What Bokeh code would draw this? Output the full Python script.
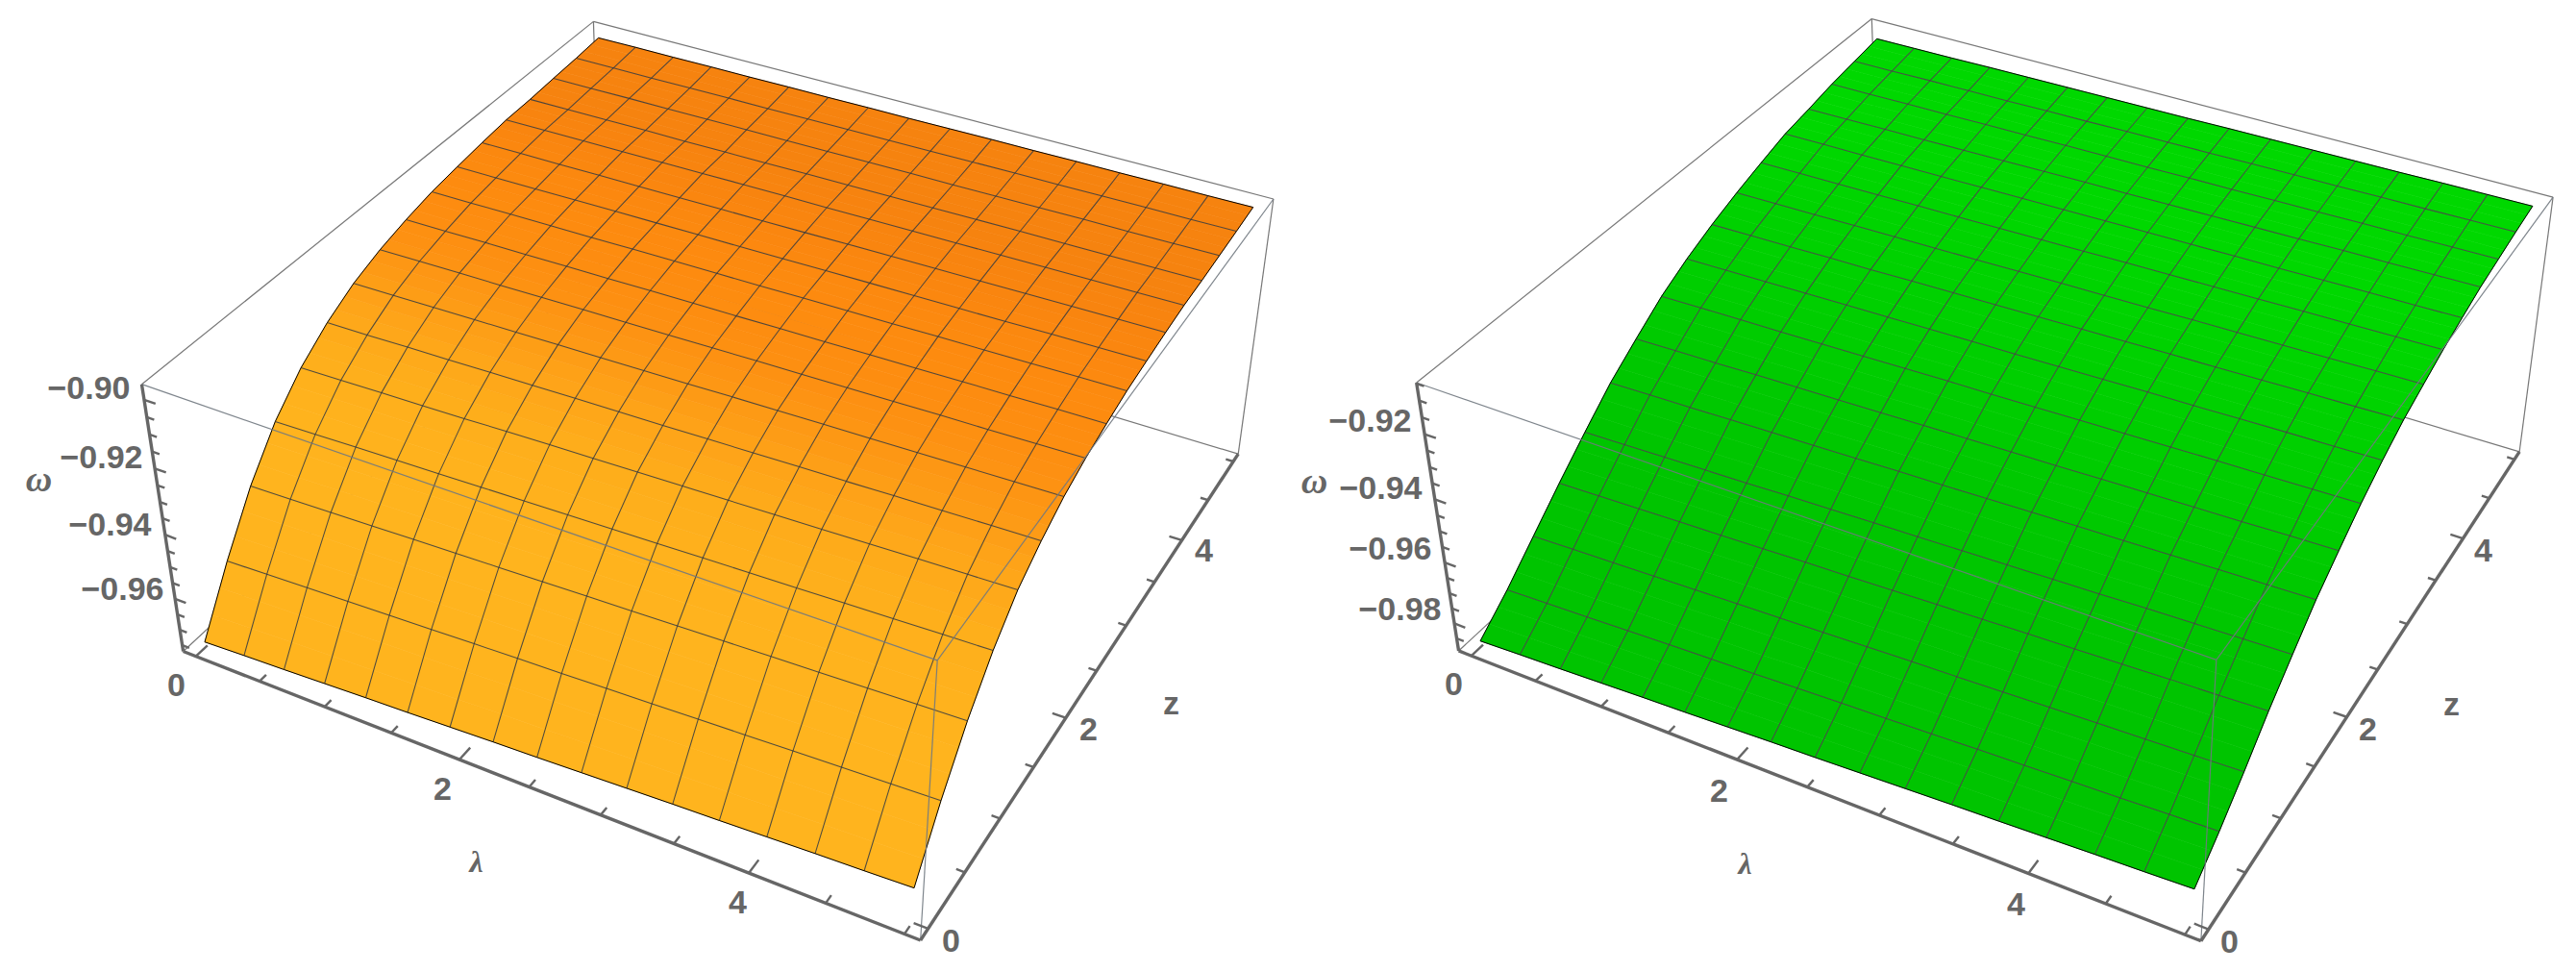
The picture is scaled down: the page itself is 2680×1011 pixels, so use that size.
import numpy as np
from bokeh.plotting import figure
from bokeh.models import Range1d
from bokeh.embed import file_html
from bokeh.resources import INLINE
from bokeh.core.properties import value

# mesh nodes of the two surfaces
lambda_grid = [0, 0.3125, 0.625, 0.9375, 1.25, 1.5625, 1.875, 2.1875, 2.5, 2.8125, 3.125, 3.4375, 3.75, 4.0625, 4.375, 4.6875, 5]
z_grid = [0, 0.3125, 0.625, 0.9375, 1.25, 1.5625, 1.875, 2.1875, 2.5, 2.8125, 3.125, 3.4375, 3.75, 4.0625, 4.375, 4.6875, 5]

# omega(lambda_i, z_j), values
omega_orange = [
 [-.9753,-.9581,-.9429,-.9309,-.9221,-.9157,-.9109,-.9076,-.9052,-.9033,-.9021,-.9010,-.9001,-.8998,-.8992,-.8987,-.8980],
 [-.9747,-.9576,-.9425,-.9306,-.9218,-.9155,-.9107,-.9074,-.9051,-.9032,-.9020,-.9009,-.9000,-.8997,-.8991,-.8986,-.8979],
 [-.9742,-.9571,-.9421,-.9302,-.9215,-.9152,-.9105,-.9072,-.9049,-.9030,-.9019,-.9008,-.8999,-.8996,-.8990,-.8986,-.8979],
 [-.9736,-.9566,-.9417,-.9299,-.9212,-.9150,-.9103,-.9071,-.9048,-.9029,-.9017,-.9007,-.8998,-.8995,-.8990,-.8985,-.8978],
 [-.9730,-.9561,-.9413,-.9296,-.9209,-.9147,-.9101,-.9069,-.9046,-.9028,-.9016,-.9006,-.8997,-.8995,-.8989,-.8984,-.8978],
 [-.9725,-.9556,-.9409,-.9292,-.9205,-.9145,-.9099,-.9067,-.9045,-.9026,-.9015,-.9005,-.8996,-.8994,-.8988,-.8984,-.8977],
 [-.9719,-.9551,-.9405,-.9289,-.9202,-.9142,-.9097,-.9066,-.9043,-.9025,-.9014,-.9004,-.8995,-.8993,-.8988,-.8983,-.8977],
 [-.9713,-.9546,-.9401,-.9285,-.9199,-.9140,-.9095,-.9064,-.9042,-.9024,-.9013,-.9003,-.8994,-.8992,-.8987,-.8982,-.8976],
 [-.9708,-.9542,-.9397,-.9282,-.9196,-.9138,-.9093,-.9062,-.9041,-.9023,-.9012,-.9002,-.8994,-.8991,-.8986,-.8982,-.8976],
 [-.9702,-.9537,-.9393,-.9279,-.9193,-.9135,-.9090,-.9060,-.9039,-.9021,-.9010,-.9000,-.8993,-.8990,-.8985,-.8981,-.8975],
 [-.9696,-.9532,-.9389,-.9275,-.9190,-.9133,-.9088,-.9059,-.9038,-.9020,-.9009,-.8999,-.8992,-.8989,-.8985,-.8980,-.8974],
 [-.9690,-.9527,-.9385,-.9272,-.9187,-.9130,-.9086,-.9057,-.9036,-.9019,-.9008,-.8998,-.8991,-.8988,-.8984,-.8979,-.8974],
 [-.9685,-.9522,-.9381,-.9269,-.9184,-.9128,-.9084,-.9055,-.9035,-.9017,-.9007,-.8997,-.8990,-.8987,-.8983,-.8979,-.8973],
 [-.9679,-.9517,-.9377,-.9265,-.9180,-.9125,-.9082,-.9053,-.9033,-.9016,-.9006,-.8996,-.8989,-.8987,-.8982,-.8978,-.8973],
 [-.9673,-.9512,-.9373,-.9262,-.9177,-.9123,-.9080,-.9052,-.9032,-.9015,-.9004,-.8995,-.8988,-.8986,-.8982,-.8977,-.8972],
 [-.9668,-.9507,-.9369,-.9258,-.9174,-.9120,-.9078,-.9050,-.9030,-.9013,-.9003,-.8994,-.8987,-.8985,-.8981,-.8977,-.8972],
 [-.9662,-.9502,-.9365,-.9255,-.9171,-.9118,-.9076,-.9048,-.9029,-.9012,-.9002,-.8993,-.8986,-.8984,-.8980,-.8976,-.8971],
]

# omega(lambda_i, z_j), values
omega_green = [
 [-.9873,-.9795,-.9707,-.9619,-.9535,-.9455,-.9390,-.9328,-.9280,-.9240,-.9206,-.9176,-.9148,-.9131,-.9112,-.9098,-.9084],
 [-.9867,-.9790,-.9702,-.9614,-.9531,-.9451,-.9387,-.9325,-.9277,-.9237,-.9204,-.9174,-.9146,-.9129,-.9111,-.9097,-.9083],
 [-.9862,-.9785,-.9698,-.9610,-.9527,-.9448,-.9384,-.9322,-.9275,-.9235,-.9202,-.9172,-.9145,-.9127,-.9109,-.9095,-.9082],
 [-.9856,-.9779,-.9693,-.9605,-.9523,-.9444,-.9380,-.9320,-.9272,-.9232,-.9199,-.9170,-.9143,-.9126,-.9108,-.9094,-.9080],
 [-.9850,-.9774,-.9688,-.9601,-.9519,-.9440,-.9377,-.9317,-.9269,-.9230,-.9197,-.9168,-.9142,-.9124,-.9106,-.9093,-.9079],
 [-.9845,-.9769,-.9683,-.9596,-.9514,-.9437,-.9374,-.9314,-.9267,-.9227,-.9195,-.9166,-.9140,-.9122,-.9105,-.9091,-.9078],
 [-.9839,-.9764,-.9679,-.9591,-.9510,-.9433,-.9371,-.9311,-.9264,-.9224,-.9193,-.9164,-.9138,-.9120,-.9103,-.9090,-.9077],
 [-.9833,-.9758,-.9674,-.9587,-.9506,-.9429,-.9367,-.9308,-.9261,-.9222,-.9190,-.9162,-.9137,-.9118,-.9102,-.9088,-.9076],
 [-.9828,-.9753,-.9669,-.9582,-.9502,-.9426,-.9364,-.9306,-.9259,-.9219,-.9188,-.9160,-.9135,-.9117,-.9101,-.9087,-.9075],
 [-.9822,-.9748,-.9664,-.9577,-.9498,-.9422,-.9361,-.9303,-.9256,-.9216,-.9186,-.9157,-.9133,-.9115,-.9099,-.9086,-.9073],
 [-.9816,-.9743,-.9660,-.9573,-.9494,-.9418,-.9358,-.9300,-.9253,-.9214,-.9184,-.9155,-.9132,-.9113,-.9098,-.9084,-.9072],
 [-.9810,-.9737,-.9655,-.9568,-.9490,-.9414,-.9354,-.9297,-.9250,-.9211,-.9181,-.9153,-.9130,-.9111,-.9096,-.9083,-.9071],
 [-.9805,-.9732,-.9650,-.9564,-.9486,-.9411,-.9351,-.9294,-.9248,-.9209,-.9179,-.9151,-.9129,-.9109,-.9095,-.9082,-.9070],
 [-.9799,-.9727,-.9645,-.9559,-.9481,-.9407,-.9348,-.9291,-.9245,-.9206,-.9177,-.9149,-.9127,-.9107,-.9093,-.9080,-.9069],
 [-.9793,-.9722,-.9641,-.9554,-.9477,-.9403,-.9345,-.9289,-.9242,-.9203,-.9175,-.9147,-.9125,-.9106,-.9092,-.9079,-.9067],
 [-.9788,-.9716,-.9636,-.9550,-.9473,-.9400,-.9341,-.9286,-.9240,-.9201,-.9172,-.9145,-.9124,-.9104,-.9090,-.9077,-.9066],
 [-.9782,-.9711,-.9631,-.9545,-.9469,-.9396,-.9338,-.9283,-.9237,-.9198,-.9170,-.9143,-.9122,-.9102,-.9089,-.9076,-.9065],
]

omega_ticks_orange = ["−0.90", "−0.92", "−0.94", "−0.96"]
omega_ticks_green = ["−0.92", "−0.94", "−0.96", "−0.98"]

N = len(z_grid)
SUB = 3

def camera(corners):
    cube = [(0,0,0),(1,0,0),(1,1,0),(0,0,1),(1,0,1),(1,1,1),(0,1,1)]
    rows = []
    for (u,v,w),(x,y) in zip(cube, corners):
        X = [u,v,w,1]
        rows.append(X+[0,0,0,0]+[-x*c for c in X])
        rows.append([0,0,0,0]+X+[-y*c for c in X])
    return np.linalg.svd(np.array(rows,float))[2][-1].reshape(3,4)

def panel(p, corners, wr, omega, stops, shift, mesh, labels, txt):
    P = camera(corners)
    def pr(l, z, w):
        l, z, w = np.broadcast_arrays(np.asarray(l,float), np.asarray(z,float), np.asarray(w,float))
        h = P @ np.vstack([(l.ravel()+0.1)/5.2, (z.ravel()+0.1)/5.2, (w.ravel()-wr[0])/(wr[1]-wr[0]), np.ones(l.size)])
        return (h[0]/h[2]).reshape(l.shape), (h[1]/h[2]).reshape(l.shape)
    W = np.array(omega)
    L, Z = np.meshgrid(lambda_grid, z_grid, indexing="ij")
    X, Y = pr(L, Z, W)
    lo, hi = -0.1, 5.1
    t, b = wr[1], wr[0]
    def seg(a, c, **k):
        xa, ya = pr(*a); xc, yc = pr(*c)
        p.line([float(xa), float(xc)], [float(ya), float(yc)], **k)
    box = dict(line_color="#777777", line_width=1.2)
    seg((lo,lo,t),(lo,hi,t),**box); seg((lo,hi,t),(hi,hi,t),**box)
    seg((lo,hi,t),(lo,hi,b),**box); seg((hi,hi,t),(hi,hi,b),**box)
    seg((lo,hi,b),(hi,hi,b),**box); seg((lo,lo,b),(lo,hi,b),**box)

    rgb = np.array([[int(s[k:k+2],16) for k in (1,3,5)] for s in stops], float)
    pos = np.arange(len(stops)) + 0.5
    xs, ys, cs = [], [], []
    for i in range(N-1):
        for j in range(N-1):
            for s in range(SUB):
                f0, f1 = s/SUB, (s+1)/SUB
                xs.append([X[i,j]+(X[i,j+1]-X[i,j])*f0, X[i+1,j]+(X[i+1,j+1]-X[i+1,j])*f0,
                           X[i+1,j]+(X[i+1,j+1]-X[i+1,j])*f1, X[i,j]+(X[i,j+1]-X[i,j])*f1])
                ys.append([Y[i,j]+(Y[i,j+1]-Y[i,j])*f0, Y[i+1,j]+(Y[i+1,j+1]-Y[i+1,j])*f0,
                           Y[i+1,j]+(Y[i+1,j+1]-Y[i+1,j])*f1, Y[i,j]+(Y[i,j+1]-Y[i,j])*f1])
                q = j + (s+0.5)/SUB + shift*i
                cs.append("#%02x%02x%02x" % tuple(int(round(np.interp(q, pos, rgb[:,c]))) for c in range(3)))
    p.patches(xs, ys, fill_color=cs, line_color=cs, line_width=0.6)
    p.multi_line([list(X[i,:]) for i in range(1,N-1)]+[list(X[:,j]) for j in range(1,N-1)],
                 [list(Y[i,:]) for i in range(1,N-1)]+[list(Y[:,j]) for j in range(1,N-1)],
                 line_color=mesh, line_width=1.05, line_alpha=0.85)
    ox = list(X[:,0])+list(X[-1,:])+list(X[::-1,-1])+list(X[0,::-1])
    oy = list(Y[:,0])+list(Y[-1,:])+list(Y[::-1,-1])+list(Y[0,::-1])
    p.line(ox, oy, line_color="black", line_width=1.0)

    fr = dict(line_color="#707880", line_width=1.2, line_alpha=0.9)
    seg((lo,lo,t),(hi,lo,t),**fr); seg((hi,lo,t),(hi,hi,t),**fr); seg((hi,lo,t),(hi,lo,b),**fr)
    ax = dict(line_color="#666666", line_width=3.4)
    seg((lo,lo,b),(hi,lo,b),**ax); seg((hi,lo,b),(hi,hi,b),**ax); seg((lo,lo,b),(lo,lo,t),**ax)
    tk = dict(line_color="#666666", line_width=2.4)
    for k in range(11):
        v = k*0.5
        seg((v,lo,b),(v,lo+(0.12 if k%4==0 else 0.07),b),**tk)
        seg((hi,v,b),(hi-(0.09 if k%4==0 else 0.055),v,b),**tk)
    for m in range(-200,-177):
        q = m*0.005
        if q < b or q > t:
            continue
        seg((lo,lo,q),(lo+(0.085 if m%4==0 else 0.055),lo,q),**tk)
    f = dict(text_font=value("Liberation Sans"), text_font_style="bold", text_font_size="34px", text_color="#666666", text_baseline="middle")
    for s,(x,y) in zip(labels, txt["w"]):
        p.text([x],[y],text=[s],text_align="right",**f)
    for s,(x,y) in txt["n"]:
        p.text([x],[y],text=[s],text_align="center",**f)
    for s,(x,y,size) in txt["g"]:
        p.text([x],[y],text=[s],text_align="center",text_font=value("Liberation Serif"),text_font_style="bold italic",text_font_size=size,text_color="#666666",text_baseline="middle")

p = figure(width=2672, height=1003, x_range=Range1d(0,2672), y_range=Range1d(1003,0), output_backend="svg",
           toolbar_location=None, min_border=0, x_axis_type=None, y_axis_type=None)
p.outline_line_color = None
p.grid.visible = False

corners_o = [(190,677),(957,977),(1288,472),(147,399),(975,687),(1324,206),(617,22)]
corners_g = [(1517,676),(2289,978),(2621,470),(1473,398),(2306,686),(2655,204),(1947,19)]
ostops = ["#ffb41e","#ffb41e","#ffb41e","#ffb21d","#feae1b","#fea519","#fd9a15","#fd9112","#fd8d10","#fd8b0f","#fc890f","#fa860f","#f8840f","#f6830f","#f6830f","#f6830f"]
gstops = ["#00c400","#00c400","#00c400","#00c400","#00c600","#00c800","#00cb00","#00ce00","#00d000","#00d200","#00d400","#00d600","#00d800","#00d800","#00d800","#00d800"]
panel(p, corners_o, (-0.977,-0.8956), omega_orange, ostops, 0.08, "#33383f", omega_ticks_orange,
      dict(w=[(135,403),(148,475),(157,545),(170,612)],
           n=[("0",(183,712)),("2",(460,820)),("4",(767,938)),("0",(989,978)),("2",(1132,758)),("4",(1252,572)),("z",(1218,730))],
           g=[("ω",(40,497,"38px")),("λ",(495,895,"32px"))]))
panel(p, corners_g, (-0.9892,-0.9047), omega_green, gstops, 0.05, "#4d3d4d", omega_ticks_green,
      dict(w=[(1468,437),(1479,507),(1489,570),(1499,633)],
           n=[("0",(1512,711)),("2",(1788,822)),("4",(2097,940)),("0",(2319,979)),("2",(2463,758)),("4",(2583,572)),("z",(2550,731))],
           g=[("ω",(1367,499,"38px")),("λ",(1815,897,"32px"))]))
open("out.html","w").write(file_html(p,INLINE))
